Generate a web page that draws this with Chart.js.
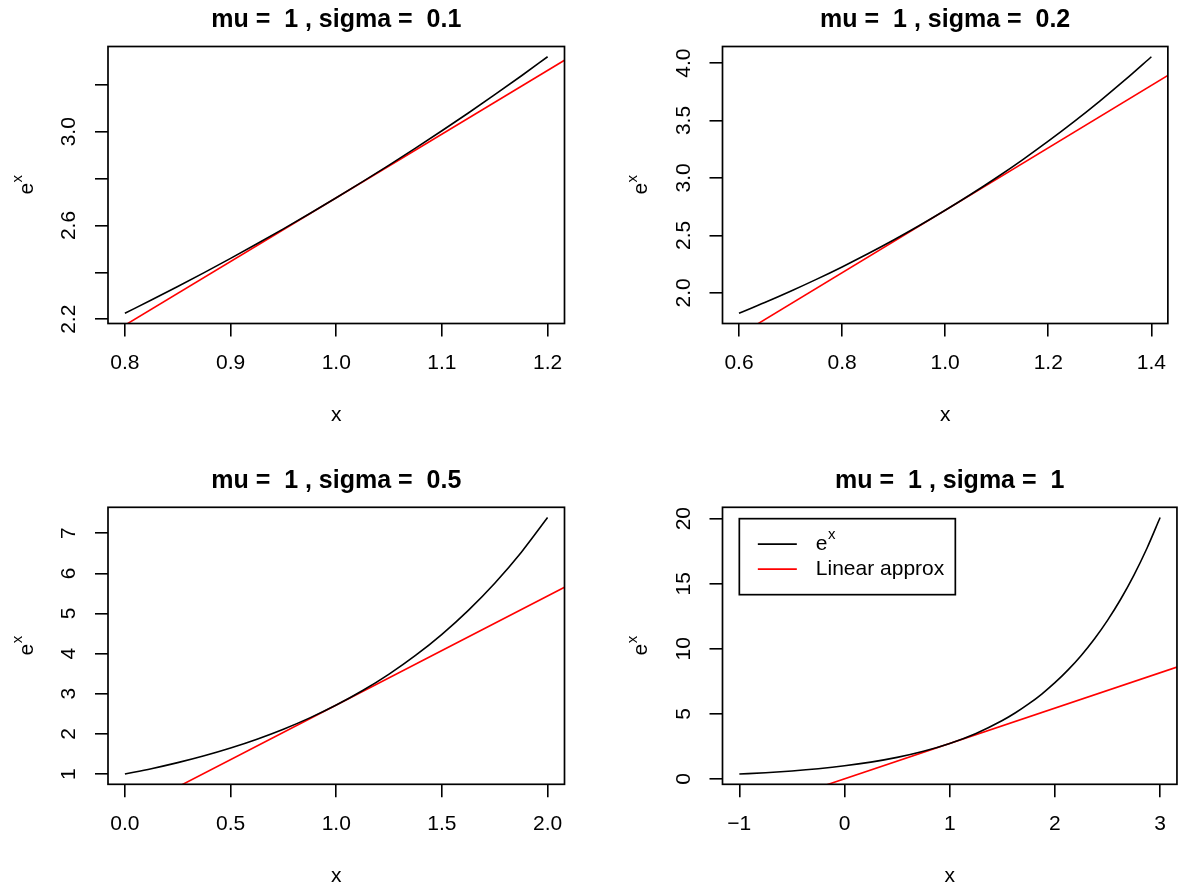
<!DOCTYPE html>
<html>
<head>
<meta charset="utf-8">
<script src="https://cdn.jsdelivr.net/npm/chart.js@4.4.1/dist/chart.umd.min.js"></script>
<style>
  body { margin: 0; background: #fff; }
  #wrap { position: relative; width: 1180px; height: 886px; }
  canvas { position: absolute; }
</style>
</head>
<body>
<div id="wrap">
  <canvas id="p1" width="590" height="443" style="left:0;top:0"></canvas>
  <canvas id="p2" width="590" height="443" style="left:590px;top:0"></canvas>
  <canvas id="p3" width="590" height="443" style="left:0;top:443px"></canvas>
  <canvas id="p4" width="590" height="443" style="left:590px;top:443px"></canvas>
</div>
<script>
// panel titles
const titles = ['mu =  1 , sigma =  0.1', 'mu =  1 , sigma =  0.2', 'mu =  1 , sigma =  0.5', 'mu =  1 , sigma =  1'];

// e^x curve
const x1 = [0.8, 0.825, 0.85, 0.875, 0.9, 0.925, 0.95, 0.975, 1.0, 1.025, 1.05, 1.075, 1.1, 1.125, 1.15, 1.175, 1.2];
const ex1 = [2.2255, 2.2819, 2.3396, 2.3989, 2.4596, 2.5219, 2.5857, 2.6512, 2.7183, 2.7871, 2.8577, 2.9300, 3.0042, 3.0802, 3.1582, 3.2381, 3.3201];
const x2 = [0.6, 0.65, 0.7, 0.75, 0.8, 0.85, 0.9, 0.95, 1.0, 1.05, 1.1, 1.15, 1.2, 1.25, 1.3, 1.35, 1.4];
const ex2 = [1.8221, 1.9155, 2.0138, 2.1170, 2.2255, 2.3396, 2.4596, 2.5857, 2.7183, 2.8577, 3.0042, 3.1582, 3.3201, 3.4903, 3.6693, 3.8574, 4.0552];
const x3 = [0, 0.125, 0.25, 0.375, 0.5, 0.625, 0.75, 0.875, 1.0, 1.125, 1.25, 1.375, 1.5, 1.625, 1.75, 1.875, 2.0];
const ex3 = [1.0, 1.1331, 1.2840, 1.4550, 1.6487, 1.8682, 2.1170, 2.3989, 2.7183, 3.0802, 3.4903, 3.9551, 4.4817, 5.0784, 5.7546, 6.5208, 7.3891];
const x4 = [-1, -0.75, -0.5, -0.25, 0, 0.25, 0.5, 0.75, 1.0, 1.25, 1.5, 1.625, 1.75, 1.875, 2.0, 2.125, 2.25, 2.375, 2.5, 2.625, 2.75, 2.875, 3.0];
const ex4 = [0.3679, 0.4724, 0.6065, 0.7788, 1.0, 1.2840, 1.6487, 2.1170, 2.7183, 3.4903, 4.4817, 5.0784, 5.7546, 6.5208, 7.3891, 8.3729, 9.4877, 10.7510, 12.1825, 13.8046, 15.6426, 17.7254, 20.0855];

// linear approx (tangent at mu), ends at the plot edges
const lin1X = [0.784, 1.216];
const lin1Y = [2.1311, 3.3054];
const lin2X = [0.568, 1.432];
const lin2Y = [1.5440, 3.8926];
const lin3X = [-0.08, 2.08];
const lin3Y = [-0.2175, 5.6540];
const lin4X = [-1.16, 3.16];
const lin4Y = [-3.1532, 8.5898];

// axis limits
const xLim = [[0.784, 1.216], [0.568, 1.432], [-0.08, 2.08], [-1.16, 3.16]];
const yLim = [[2.1818, 3.3639], [1.7328, 4.1445], [0.7444, 7.6446], [-0.4208, 20.8742]];

// ticks
const xTicks1 = [0.8, 0.9, 1.0, 1.1, 1.2];
const xLabels1 = ['0.8', '0.9', '1.0', '1.1', '1.2'];
const yTicks1 = [2.2, 2.4, 2.6, 2.8, 3.0, 3.2];
const yLabels1 = ['2.2', '', '2.6', '', '3.0', ''];
const xTicks2 = [0.6, 0.8, 1.0, 1.2, 1.4];
const xLabels2 = ['0.6', '0.8', '1.0', '1.2', '1.4'];
const yTicks2 = [2.0, 2.5, 3.0, 3.5, 4.0];
const yLabels2 = ['2.0', '2.5', '3.0', '3.5', '4.0'];
const xTicks3 = [0, 0.5, 1.0, 1.5, 2.0];
const xLabels3 = ['0.0', '0.5', '1.0', '1.5', '2.0'];
const yTicks3 = [1, 2, 3, 4, 5, 6, 7];
const yLabels3 = ['1', '2', '3', '4', '5', '6', '7'];
const xTicks4 = [-1, 0, 1, 2, 3];
const xLabels4 = ['\u22121', '0', '1', '2', '3'];
const yTicks4 = [0, 5, 10, 15, 20];
const yLabels4 = ['0', '5', '10', '15', '20'];

// legend (top-left corner placed at data coords in last panel)
const legendLabels = ['e^x', 'Linear approx'];
const legendColors = ['#000000', '#ff0000'];
const legendAt = [-1, 20];

const FONT = '"Liberation Sans", Arial, Helvetica, sans-serif';
const FS = 21;
const mctx = document.createElement('canvas').getContext('2d');
mctx.font = FS + 'px ' + FONT;

// draws "e^x" style text; align: 'left' or 'center'
function supText(ctx, txt, x, y, size, align) {
  const [base, sup] = txt.split('^');
  ctx.font = size + 'px ' + FONT;
  const wb = ctx.measureText(base).width;
  ctx.font = Math.round(size * 0.72) + 'px ' + FONT;
  const ws = sup ? ctx.measureText(sup).width : 0;
  let x0 = align === 'center' ? x - (wb + ws) / 2 : x;
  ctx.textAlign = 'left';
  ctx.textBaseline = 'middle';
  ctx.font = size + 'px ' + FONT;
  ctx.fillText(base, x0, y);
  if (sup) {
    ctx.font = Math.round(size * 0.72) + 'px ' + FONT;
    ctx.fillText(sup, x0 + wb + 0.5, y - size * 0.42);
  }
}

const decor = {
  id: 'decor',
  afterDraw(chart, args, o) {
    const ctx = chart.ctx, a = chart.chartArea;
    const cx = (a.left + a.right) / 2;
    ctx.save();
    ctx.strokeStyle = '#000';
    ctx.lineWidth = 1.7;
    ctx.strokeRect(a.left, a.top, a.right - a.left, a.bottom - a.top);
    ctx.fillStyle = '#000';
    ctx.textAlign = 'center';
    ctx.textBaseline = 'middle';
    ctx.font = 'bold 25px ' + FONT;
    ctx.fillText(o.title, cx, a.top - 26);
    ctx.font = FS + 'px ' + FONT;
    ctx.fillText('x', cx, a.bottom + 92);
    ctx.save();
    ctx.translate(a.left - 81, (a.top + a.bottom) / 2);
    ctx.rotate(-Math.PI / 2);
    supText(ctx, 'e^x', 0, 0, FS, 'center');
    ctx.restore();

    if (o.legend) {
      const lx = chart.scales.x.getPixelForValue(legendAt[0]);
      const ly = chart.scales.y.getPixelForValue(legendAt[1]);
      ctx.fillStyle = '#fff';
      ctx.fillRect(lx, ly, 216, 76);
      ctx.lineWidth = 1.7;
      ctx.strokeStyle = '#000';
      ctx.strokeRect(lx, ly, 216, 76);
      legendLabels.forEach((lab, i) => {
        const yy = ly + 25.5 + i * 25;
        ctx.strokeStyle = legendColors[i];
        ctx.lineWidth = 1.6;
        ctx.beginPath();
        ctx.moveTo(lx + 18.5, yy);
        ctx.lineTo(lx + 57.5, yy);
        ctx.stroke();
        ctx.fillStyle = '#000';
        supText(ctx, lab, lx + 76.5, yy, FS, 'left');
      });
    }
    ctx.restore();
  }
};

function makePanel(id, n, xs, ys, lx, ly, xT, xL, yT, yL, pad, legend) {
  const widest = Math.max(...yL.map(l => mctx.measureText(l).width));
  new Chart(document.getElementById(id), {
    type: 'line',
    data: {
      datasets: [
        { data: xs.map((v, i) => ({x: v, y: ys[i]})), borderColor: '#000', borderWidth: 1.6,
          pointRadius: 0, cubicInterpolationMode: 'monotone', clip: 0 },
        { data: lx.map((v, i) => ({x: v, y: ly[i]})), borderColor: '#ff0000', borderWidth: 1.6,
          pointRadius: 0, clip: 0 }
      ]
    },
    options: {
      responsive: false,
      animation: false,
      devicePixelRatio: 1,
      events: [],
      layout: { padding: { left: 0, top: pad.top, right: pad.right, bottom: 0 } },
      plugins: { legend: { display: false }, title: { display: false }, tooltip: { enabled: false },
                 decor: { title: titles[n], legend: legend } },
      scales: {
        x: {
          type: 'linear', min: xLim[n][0], max: xLim[n][1],
          afterBuildTicks: s => { s.ticks = xT.map(v => ({value: v})); },
          afterFit: s => { s.height = 443 - pad.bottom; },
          border: { display: false },
          grid: { drawOnChartArea: false, drawTicks: true, tickLength: 13, color: '#000', lineWidth: 1.6 },
          ticks: { autoSkip: false, maxRotation: 0, color: '#000', padding: 14,
                   font: { family: FONT, size: FS }, callback: (v, i) => xL[i] }
        },
        y: {
          type: 'linear', min: yLim[n][0], max: yLim[n][1],
          afterBuildTicks: s => { s.ticks = yT.map(v => ({value: v})); },
          afterFit: s => { s.width = pad.left; },
          border: { display: false },
          grid: { drawOnChartArea: false, drawTicks: true, tickLength: 13, color: '#000', lineWidth: 1.6 },
          ticks: { autoSkip: false, minRotation: 90, maxRotation: 90, crossAlign: 'center', color: '#000',
                   padding: 38.5 - 13 - widest / 2,
                   font: { family: FONT, size: FS }, callback: (v, i) => yL[i] }
        }
      }
    },
    plugins: [decor]
  });
}

makePanel('p1', 0, x1, ex1, lin1X, lin1Y, xTicks1, xLabels1, yTicks1, yLabels1,
  { left: 108, right: 25.5, top: 46.5, bottom: 323.5 }, false);
makePanel('p2', 1, x2, ex2, lin2X, lin2Y, xTicks2, xLabels2, yTicks2, yLabels2,
  { left: 132.5, right: 1, top: 46.5, bottom: 323.5 }, false);
makePanel('p3', 2, x3, ex3, lin3X, lin3Y, xTicks3, xLabels3, yTicks3, yLabels3,
  { left: 108, right: 25.5, top: 64.3, bottom: 341.3 }, false);
makePanel('p4', 3, x4, ex4, lin4X, lin4Y, xTicks4, xLabels4, yTicks4, yLabels4,
  { left: 132.5, right: 1, top: 64.3, bottom: 341.3 }, true);
</script>
</body>
</html>
